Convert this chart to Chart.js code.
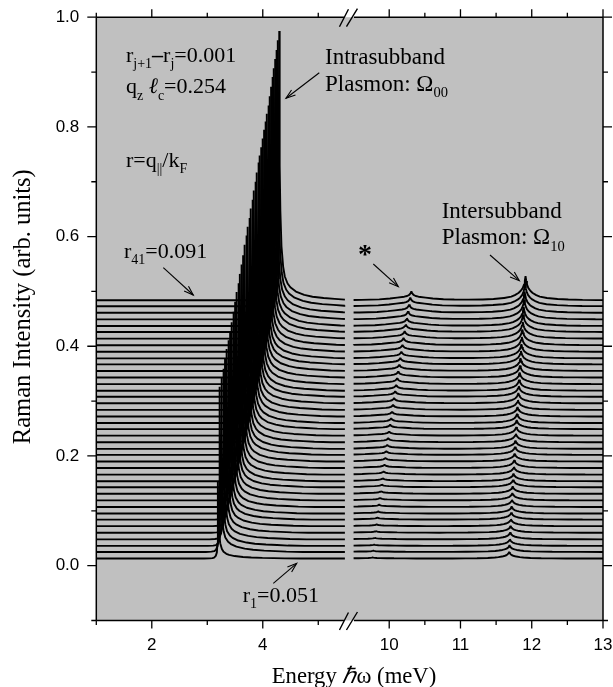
<!DOCTYPE html>
<html><head><meta charset="utf-8">
<script src="https://cdn.jsdelivr.net/npm/chart.js@4.4.0/dist/chart.umd.min.js"></script>
<style>html,body{margin:0;padding:0;background:#fff;}#wrap{width:613px;height:687px;}</style>
</head><body><div id="wrap"><canvas id="c" width="613" height="687"></canvas></div>
<script>
// ---- data ----
const rValues = [0.051,0.052,0.053,0.054,0.055,0.056,0.057,0.058,0.059,0.060,0.061,0.062,0.063,0.064,0.065,0.066,0.067,0.068,0.069,0.070,0.071,0.072,0.073,0.074,0.075,0.076,0.077,0.078,0.079,0.080,0.081,0.082,0.083,0.084,0.085,0.086,0.087,0.088,0.089,0.090,0.091];
const baselines = [0.013,0.025,0.036,0.048,0.060,0.072,0.084,0.095,0.107,0.119,0.131,0.143,0.154,0.166,0.178,0.190,0.202,0.213,0.225,0.237,0.249,0.260,0.272,0.284,0.296,0.308,0.319,0.331,0.343,0.355,0.367,0.378,0.390,0.402,0.414,0.426,0.437,0.449,0.461,0.473,0.484];
const intraPeakE = [3.193,3.225,3.257,3.289,3.320,3.351,3.382,3.412,3.442,3.472,3.502,3.531,3.560,3.589,3.618,3.646,3.675,3.703,3.730,3.758,3.785,3.813,3.840,3.866,3.893,3.920,3.946,3.972,3.998,4.024,4.049,4.075,4.100,4.125,4.150,4.175,4.200,4.224,4.249,4.273,4.297];
const intraPeakH = [0.140,0.301,0.306,0.311,0.317,0.323,0.327,0.331,0.337,0.344,0.350,0.356,0.361,0.366,0.371,0.376,0.383,0.389,0.393,0.397,0.402,0.407,0.412,0.416,0.421,0.427,0.429,0.432,0.436,0.440,0.443,0.446,0.449,0.454,0.459,0.465,0.470,0.475,0.479,0.485,0.491];
const starPeakE = [9.767,9.778,9.789,9.800,9.812,9.824,9.835,9.847,9.859,9.872,9.884,9.896,9.909,9.921,9.934,9.947,9.960,9.973,9.986,9.999,10.013,10.027,10.040,10.054,10.068,10.083,10.097,10.111,10.126,10.141,10.156,10.171,10.186,10.201,10.217,10.232,10.248,10.264,10.280,10.296,10.311];
const starPeakH = [0.0020,0.0023,0.0025,0.0028,0.0030,0.0033,0.0036,0.0039,0.0042,0.0045,0.0048,0.0050,0.0054,0.0057,0.0060,0.0063,0.0066,0.0070,0.0073,0.0076,0.0080,0.0084,0.0087,0.0091,0.0094,0.0098,0.0102,0.0106,0.0110,0.0114,0.0118,0.0122,0.0126,0.0130,0.0134,0.0138,0.0142,0.0147,0.0151,0.0156,0.0160];
const interPeakE = [11.683,11.688,11.693,11.698,11.703,11.708,11.713,11.718,11.723,11.728,11.733,11.739,11.744,11.750,11.755,11.760,11.766,11.772,11.777,11.783,11.789,11.794,11.800,11.806,11.812,11.818,11.824,11.830,11.836,11.842,11.849,11.855,11.861,11.868,11.874,11.880,11.887,11.894,11.900,11.907,11.913];
const interPeakH = [0.0120,0.0121,0.0123,0.0124,0.0125,0.0126,0.0128,0.0129,0.0130,0.0132,0.0134,0.0135,0.0137,0.0139,0.0142,0.0144,0.0147,0.0150,0.0154,0.0158,0.0162,0.0167,0.0172,0.0178,0.0185,0.0193,0.0201,0.0210,0.0220,0.0231,0.0243,0.0256,0.0271,0.0287,0.0304,0.0322,0.0342,0.0364,0.0388,0.0413,0.0440];
// peak shapes (relative height vs distance from peak, meV)
const intraShapeDx  = [-0.25,-0.15,-0.1,-0.07,-0.04,-0.02,-0.01,-0.005,0,0.005,0.01,0.02,0.04,0.07,0.1,0.15,0.2,0.3,0.45,0.6,0.8,1.0,1.2,1.5];
const intraShapeRel = [0,0.002,0.005,0.012,0.035,0.08,0.2,0.45,1,0.67,0.5,0.33,0.2,0.125,0.088,0.062,0.048,0.032,0.02,0.013,0.008,0.005,0.002,0];
const starShapeDx  = [0,0.01,0.03,0.06,0.1,0.2,0.3,0.45,0.7,1.0,1.3];
const starShapeRel = [1,0.8,0.6,0.48,0.4,0.3,0.2,0.1,0.04,0.01,0];
const interShapeDx  = [0,0.01,0.02,0.04,0.07,0.1,0.15,0.2,0.3,0.45,0.6,0.8,1.0,1.3];
const interShapeRel = [1,0.8,0.66,0.5,0.38,0.3,0.21,0.15,0.09,0.05,0.028,0.013,0.005,0];
const leftDataRange = [1.0, 5.48];
const rightDataRange = [9.5, 13.0];
// axes
const xLeftLimits = [1, 5.571];
const xRightLimits = [9.449, 13];
const yLimits = [-0.1, 1.0];
const xLeftTicks = [2, 4];
const xLeftMinor = [1, 3, 5];
const xRightTicks = [10, 11, 12, 13];
const xRightMinor = [10.5, 11.5, 12.5];
const yTicks = [0.0, 0.2, 0.4, 0.6, 0.8, 1.0];
const yMinor = [-0.1, 0.1, 0.3, 0.5, 0.7, 0.9];

// ---- build datasets ----
function shapeAt(dxArr, relArr, dx) {
  if (dx <= dxArr[0]) return relArr[0];
  const n = dxArr.length;
  if (dx >= dxArr[n-1]) return relArr[n-1];
  for (let i = 1; i < n; i++) {
    if (dx <= dxArr[i]) {
      const t = (dx - dxArr[i-1]) / (dxArr[i] - dxArr[i-1]);
      return relArr[i-1] + t * (relArr[i] - relArr[i-1]);
    }
  }
  return 0;
}
function uniqSorted(arr, lo, hi) {
  const s = arr.filter(v => v >= lo && v <= hi).sort((a, b) => a - b);
  const out = [];
  for (const v of s) if (!out.length || Math.abs(v - out[out.length-1]) > 1e-9) out.push(v);
  return out;
}
const datasets = [];
const lineStyle = {showLine: true, borderColor: '#000', borderWidth: 1.9, pointRadius: 0, borderJoinStyle: 'bevel', tension: 0, fill: false};
for (let j = 0; j < rValues.length; j++) {
  const p = intraPeakE[j];
  const xsL = uniqSorted([leftDataRange[0], leftDataRange[1], ...intraShapeDx.map(d => p + d)], leftDataRange[0], leftDataRange[1]);
  datasets.push(Object.assign({
    label: 'r=' + rValues[j] + ' (low)', xAxisID: 'x', yAxisID: 'y',
    data: xsL.map(x => ({x, y: baselines[j] + intraPeakH[j] * shapeAt(intraShapeDx, intraShapeRel, x - p)}))
  }, lineStyle));
  const ps = starPeakE[j], pi = interPeakE[j];
  const xsR = uniqSorted([rightDataRange[0], rightDataRange[1],
    ...starShapeDx.map(d => ps + d), ...starShapeDx.map(d => ps - d),
    ...interShapeDx.map(d => pi + d), ...interShapeDx.map(d => pi - d)], rightDataRange[0], rightDataRange[1]);
  datasets.push(Object.assign({
    label: 'r=' + rValues[j] + ' (high)', xAxisID: 'x2', yAxisID: 'y',
    data: xsR.map(x => ({x, y: baselines[j]
      + starPeakH[j] * shapeAt(starShapeDx, starShapeRel, Math.abs(x - ps))
      + interPeakH[j] * shapeAt(interShapeDx, interShapeRel, Math.abs(x - pi))}))
  }, lineStyle));
}

// ---- drawing helpers ----
const SERIF = '"Liberation Serif", "Times New Roman", serif';
const MAIN = 22, SUB = 14;
function rich(ctx, x, y, parts, size, subSize, align) {
  size = size || MAIN; subSize = subSize || SUB;
  const fontFor = k => k === 's' ? subSize + 'px ' + SERIF : (k === 'i' ? 'italic ' : k === 'b' ? 'bold ' : '') + size + 'px ' + SERIF;
  let total = 0;
  for (const [t, k] of parts) { ctx.font = fontFor(k); total += ctx.measureText(t).width; }
  let cx = align === 'center' ? x - total / 2 : x;
  ctx.textAlign = 'left'; ctx.textBaseline = 'alphabetic';
  for (const [t, k] of parts) {
    ctx.font = fontFor(k);
    ctx.fillText(t, cx, k === 's' ? y + 6.5 : y);
    cx += ctx.measureText(t).width;
  }
}
function arrow(ctx, x0, y0, x1, y1) {
  ctx.beginPath(); ctx.moveTo(x0, y0); ctx.lineTo(x1, y1); ctx.stroke();
  const ang = Math.atan2(y1 - y0, x1 - x0), L = 10, w = 0.33;
  ctx.beginPath();
  ctx.moveTo(x1 - L * Math.cos(ang - w), y1 - L * Math.sin(ang - w));
  ctx.lineTo(x1, y1);
  ctx.lineTo(x1 - L * Math.cos(ang + w), y1 - L * Math.sin(ang + w));
  ctx.stroke();
}

const framePlugin = {
  id: 'frame',
  beforeDraw(chart) {
    const {ctx, chartArea: a} = chart;
    ctx.save(); ctx.fillStyle = '#c0c0c0';
    ctx.fillRect(a.left, a.top, a.right - a.left, a.bottom - a.top);
    ctx.restore();
  },
  afterDraw(chart) {
    const {ctx, chartArea: a} = chart;
    const xl = chart.scales.x, xr = chart.scales.x2, ys = chart.scales.y;
    const bx = xl.right;
    ctx.save();
    ctx.strokeStyle = '#000'; ctx.fillStyle = '#000'; ctx.lineWidth = 1.5; ctx.lineCap = 'butt';
    // frame with breaks
    ctx.beginPath();
    ctx.moveTo(a.left, a.top); ctx.lineTo(a.left, a.bottom);
    ctx.moveTo(a.right, a.top); ctx.lineTo(a.right, a.bottom);
    for (const yy of [a.top, a.bottom]) {
      ctx.moveTo(a.left, yy); ctx.lineTo(bx - 6, yy);
      ctx.moveTo(bx + 4, yy); ctx.lineTo(a.right, yy);
    }
    ctx.stroke();
    // ticks
    ctx.lineWidth = 1.3;
    ctx.beginPath();
    const tickX = (scale, vals, len) => {
      for (const v of vals) {
        const px = scale.getPixelForValue(v);
        ctx.moveTo(px, a.bottom); ctx.lineTo(px, a.bottom + len);
        ctx.moveTo(px, a.top); ctx.lineTo(px, a.top - len);
      }
    };
    tickX(xl, xLeftTicks, 8); tickX(xl, xLeftMinor, 4.5);
    tickX(xr, xRightTicks, 8); tickX(xr, xRightMinor, 4.5);
    const tickY = (vals, len) => {
      for (const v of vals) {
        const py = ys.getPixelForValue(v);
        ctx.moveTo(a.left, py); ctx.lineTo(a.left - len, py);
        ctx.moveTo(a.right, py); ctx.lineTo(a.right + len, py);
      }
    };
    tickY(yTicks, 9); tickY(yMinor, 5);
    ctx.stroke();
    // break marks
    ctx.lineWidth = 1.4;
    ctx.beginPath();
    for (const yy of [a.top, a.bottom]) {
      ctx.moveTo(bx - 10.5, yy + 9.5); ctx.lineTo(bx - 1.5, yy - 8);
      ctx.moveTo(bx - 3.5, yy + 9.5); ctx.lineTo(bx + 7.5, yy - 8.5);
    }
    ctx.stroke();
    // axis titles
    ctx.save();
    ctx.translate(24, 306.7);
    ctx.rotate(-Math.PI / 2);
    ctx.font = '24.5px ' + SERIF; ctx.textAlign = 'center'; ctx.textBaseline = 'middle';
    ctx.fillText('Raman Intensity (arb. units)', 0, 0);
    ctx.restore();
    rich(ctx, 354, 682.5, [['Energy ', 'n'], ['\u210F', 'i'], ['\u03C9 (meV)', 'n']], 22.7, 14, 'center');
    // annotations
    rich(ctx, 126, 61.7, [['r', 'n'], ['j+1', 's'], ['\u2013', 'b'], ['r', 'n'], ['j', 's'], ['=0.001', 'n']]);
    rich(ctx, 126, 93.3, [['q', 'n'], ['z', 's'], [' \u2113', 'i'], ['c', 's'], ['=0.254', 'n']]);
    rich(ctx, 126, 166.7, [['r=q', 'n'], ['||', 's'], ['/k', 'n'], ['F', 's']]);
    rich(ctx, 124, 257.7, [['r', 'n'], ['41', 's'], ['=0.091', 'n']]);
    rich(ctx, 242.7, 601.7, [['r', 'n'], ['1', 's'], ['=0.051', 'n']]);
    rich(ctx, 325, 64, [['Intrasubband', 'n']], 23, 14.5);
    rich(ctx, 325, 90.7, [['Plasmon: \u03A9', 'n'], ['00', 's']], 23, 14.5);
    rich(ctx, 441.7, 218.3, [['Intersubband', 'n']], 23, 14.5);
    rich(ctx, 441.7, 244, [['Plasmon: \u03A9', 'n'], ['10', 's']], 23, 14.5);
    ctx.font = 'bold 28px ' + SERIF; ctx.textAlign = 'center'; ctx.textBaseline = 'alphabetic';
    ctx.fillText('*', 365, 263);
    ctx.lineWidth = 1.1;
    arrow(ctx, 163.3, 267.7, 193.3, 295);
    arrow(ctx, 319.3, 72.7, 286, 98.3);
    arrow(ctx, 373.3, 264, 398.3, 286.7);
    arrow(ctx, 490, 255, 519.3, 280.7);
    arrow(ctx, 273.3, 583.3, 296.7, 563.3);
    ctx.restore();
  }
};

const tickFont = {family: 'Liberation Sans', size: 17};
function xScale(limits, weight, major) {
  return {
    type: 'linear', position: 'bottom', stack: 'energy', stackWeight: weight,
    min: limits[0], max: limits[1],
    grid: {display: false, drawTicks: false}, border: {display: false},
    afterBuildTicks: s => { s.ticks = major.map(v => ({value: v})); },
    ticks: {font: tickFont, color: '#000', padding: 15, maxRotation: 0, autoSkip: false, callback: v => String(v)},
    afterFit: s => { s.height = 66.5; s.paddingLeft = 0; s.paddingRight = 0; }
  };
}
new Chart(document.getElementById('c').getContext('2d'), {
  type: 'scatter',
  data: {datasets},
  options: {
    responsive: false, animation: false, devicePixelRatio: 1,
    layout: {padding: {top: 17.2, right: 10, left: 0, bottom: 0}},
    plugins: {legend: {display: false}, tooltip: {enabled: false}},
    scales: {
      x: xScale(xLeftLimits, 253.7, xLeftTicks),
      x2: xScale(xRightLimits, 253.1, xRightTicks),
      y: {
        type: 'linear', position: 'left', min: yLimits[0], max: yLimits[1],
        grid: {display: false, drawTicks: false}, border: {display: false},
        afterBuildTicks: s => { s.ticks = yTicks.map(v => ({value: v})); },
        ticks: {font: tickFont, color: '#000', padding: 17, callback: v => v.toFixed(1)},
        afterFit: s => { s.width = 96.3; s.paddingTop = 0; s.paddingBottom = 0; }
      }
    }
  },
  plugins: [framePlugin]
});
</script></body></html>
